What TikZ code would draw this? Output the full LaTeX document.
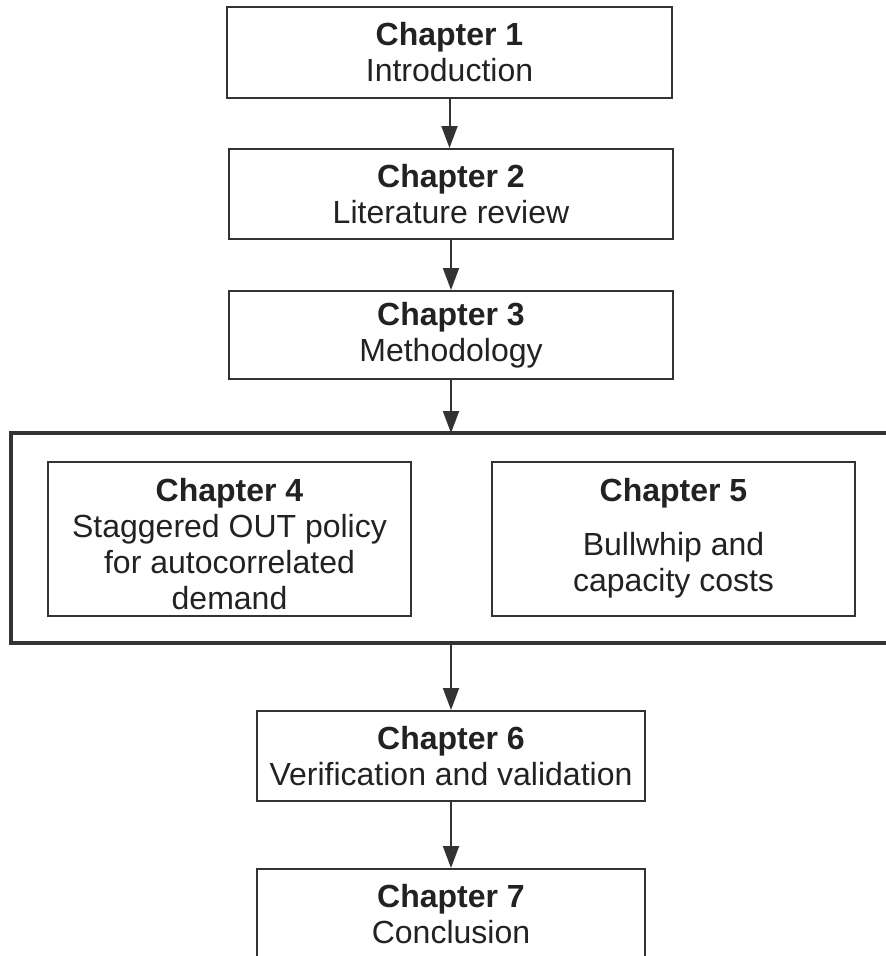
\documentclass[tikz,border=0pt]{standalone}
\usepackage{fontspec}
\setmainfont{Liberation Sans}
\usetikzlibrary{arrows.meta}
\definecolor{linegray}{HTML}{333333}
\definecolor{textgray}{HTML}{222222}
\tikzset{
  chapbox/.style={draw=linegray, line width=2pt, rectangle, inner sep=0pt,
    align=center, text=textgray,
    font=\fontsize{32}{36}\selectfont},
  flow/.style={draw=linegray, line width=2pt,
    -{Triangle[length=22pt,width=16pt]}, color=linegray},
  groupframe/.style={draw=linegray, line width=4pt}
}
\newcommand{\chap}[2]{\textbf{Chapter #1}\\#2}
\begin{document}
\begin{tikzpicture}[x=1pt,y=-1pt]
  \useasboundingbox (0,0) rectangle (886,956);
  \begin{scope}
    \clip (0,0) rectangle (886,956);

    % linear chain of chapters
    \node[chapbox, minimum width=445pt, minimum height=91pt] (c1) at (449.5,52.5) {\chap{1}{Introduction}};
    \node[chapbox, minimum width=444pt, minimum height=90pt] (c2) at (451,194) {\chap{2}{Literature review}};
    \node[chapbox, minimum width=444pt, minimum height=88pt] (c3) at (451,335) {\chap{3}{Methodology}};

    % grouping frame around chapters 4 and 5
    \coordinate (gtop) at (451,433);
    \coordinate (gbot) at (451,643);
    \draw[groupframe] (900,433) -- (11,433) -- (11,643) -- (900,643);

    \node[chapbox, minimum width=363pt, minimum height=154pt] (c4) at (229.5,538.5)
      {\rule{0pt}{34pt}\textbf{Chapter 4}\\[0.5pt]Staggered OUT policy\\for autocorrelated\\demand};
    \node[chapbox, minimum width=363pt, minimum height=154pt] (c5) at (673.5,538.5)
      {\textbf{Chapter 5}\\[18pt]Bullwhip and\\capacity costs};

    \node[chapbox, minimum width=388pt, minimum height=90pt] (c6) at (451,756) {\chap{6}{Verification and validation}};
    \node[chapbox, minimum width=388pt, minimum height=90pt, anchor=north] (c7) at (451,868) {\chap{7}{Conclusion}};

    % connectors
    \draw[flow] (c1.south) -- (c1.south |- c2.north);
    \draw[flow] (c2) -- (c3);
    \draw[flow] (c3.south) -- (gtop);
    \draw[flow] (gbot) -- (c6.north);
    \draw[flow] (c6) -- (c7);
  \end{scope}
\end{tikzpicture}
\end{document}
